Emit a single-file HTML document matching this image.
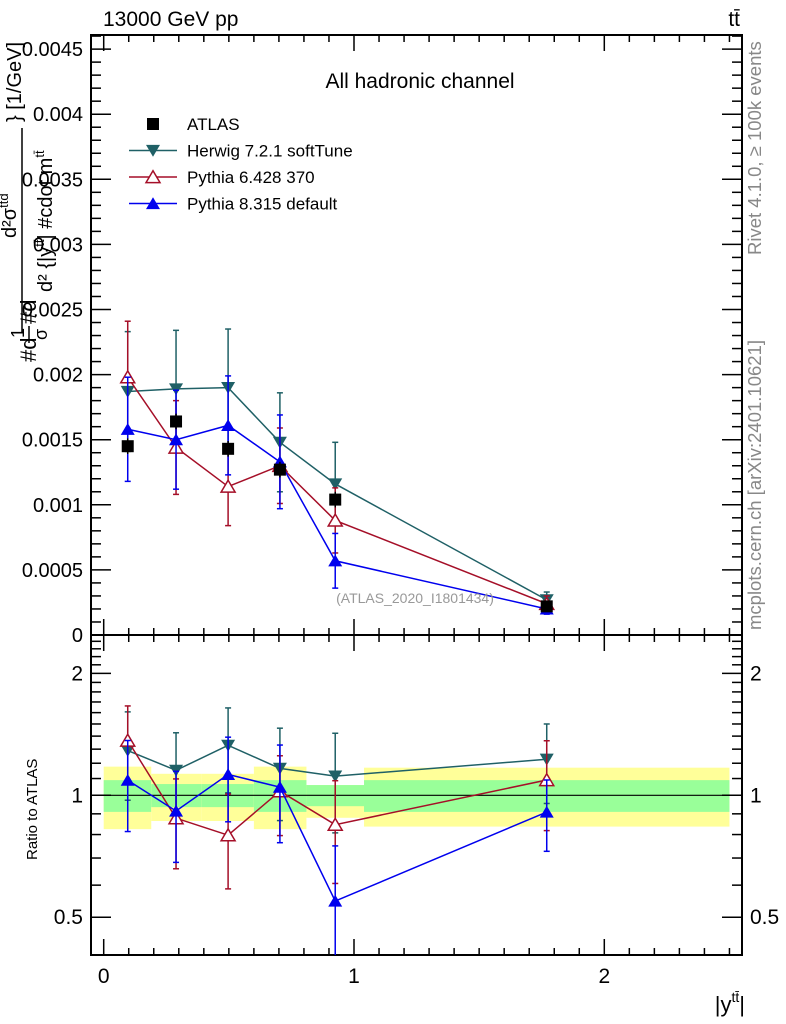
<!DOCTYPE html>
<html><head><meta charset="utf-8"><style>
html,body{margin:0;padding:0;background:#fff;}
svg{display:block;font-family:"Liberation Sans",sans-serif;}
</style></head><body>
<svg id="chart" width="786" height="1024" viewBox="0 0 786 1024">
<rect x="0" y="0" width="786" height="1024" fill="#fff"/>
<g id="bands"></g>
<g id="axes"></g>
<g id="series"></g>
<text x="103" y="26" font-size="21">13000 GeV pp</text>
<text x="740" y="26" font-size="21" text-anchor="end">tt̄</text>
<text x="420" y="88" font-size="21" text-anchor="middle">All hadronic channel</text>
<text x="415" y="603" font-size="14" fill="#999" text-anchor="middle">(ATLAS_2020_I1801434)</text>
<text transform="translate(761,255) rotate(-90)" font-size="18.5" fill="#888">Rivet 4.1.0, ≥ 100k events</text>
<text transform="translate(761,630) rotate(-90)" font-size="18.5" fill="#888">mcplots.cern.ch [arXiv:2401.10621]</text>
<g font-size="22">
<text transform="translate(36,362) rotate(-90)">#d</text>
<text transform="translate(24,338) rotate(-90)" font-size="18">1</text>
<line x1="29" x2="29" y1="343" y2="326" stroke="#000" stroke-width="1.5"/>
<text transform="translate(47,340) rotate(-90)" font-size="18">σ</text>
<text transform="translate(36,324) rotate(-90)">#d</text>
<line x1="22" x2="22" y1="333" y2="128" stroke="#000" stroke-width="1.5"/>
<text transform="translate(16,238) rotate(-90)" font-size="20">d²σ<tspan font-size="13" dy="-8">ttd</tspan></text>
<text transform="translate(52,292) rotate(-90)" font-size="20">d² {|y<tspan font-size="13" dy="-8">tt̄</tspan><tspan dy="8">| #cdot m</tspan><tspan font-size="13" dy="-8">tt̄</tspan></text>
<text transform="translate(21,122) rotate(-90)" font-size="20">} [1/GeV]</text>
</g>
<text transform="translate(37,860) rotate(-90)" font-size="15">Ratio to ATLAS</text>
<text x="745" y="1012" font-size="22" text-anchor="end">|y<tspan font-size="14" dy="-10">tt̄</tspan><tspan dy="10">|</tspan></text>
<g id="legend"></g>
</svg>
<script>
const xCenters=[0.096,0.289,0.497,0.704,0.925,1.77];
const binEdges=[0,0.19,0.39,0.6,0.81,1.04,2.5];
const atlasVals=[0.00145,0.00164,0.00143,0.00127,0.00104,0.00022];
const atlasErr=[0.00006,0.00006,0.00006,0.00006,0.00006,0.00002];
const greenUp=[1.09,1.066,1.066,1.09,1.06,1.09];
const greenDn=[0.91,0.935,0.935,0.91,0.94,0.91];
const yellowUp=[1.177,1.13,1.13,1.177,1.06,1.17];
const yellowDn=[0.825,0.864,0.864,0.825,0.88,0.837];
const herwigVals=[0.00187,0.00189,0.0019,0.00148,0.00116,0.00027];
const herwigErr=[0.00046,0.00045,0.00045,0.00038,0.00032,0.00006];
const py6Vals=[0.00198,0.00144,0.00114,0.0013,0.00088,0.00024];
const py6Err=[0.00043,0.00036,0.0003,0.00029,0.00025,0.00006];
const py8Vals=[0.00158,0.0015,0.00161,0.00133,0.00057,0.0002];
const py8Err=[0.0004,0.00038,0.00038,0.00036,0.00021,0.00004];
const mainTicks=[0,0.0005,0.001,0.0015,0.002,0.0025,0.003,0.0035,0.004,0.0045];
const mainTickLabels=["0","0.0005","0.001","0.0015","0.002","0.0025","0.003","0.0035","0.004","0.0045"];
const ratioTicks=[0.5,1,2];
const ratioTickLabels=["0.5","1","2"];
const xTicks=[0,1,2];
const xTickLabels=["0","1","2"];

const L=91,R=742,T=35,MB=635,RB=955;
const NS="http://www.w3.org/2000/svg";
const X=v=>103.7+v*250.3;
const Ym=v=>635-v*130200;
const Yr=r=>795.3-405*Math.log10(r);
function mk(tag,attrs,parent){const e=document.createElementNS(NS,tag);for(const k in attrs)e.setAttribute(k,attrs[k]);parent.appendChild(e);return e;}
const axes=document.getElementById('axes'),bands=document.getElementById('bands'),ser=document.getElementById('series'),leg=document.getElementById('legend');

for(let i=0;i<binEdges.length-1;i++){
 const y=mk('rect',{x:X(binEdges[i]),width:X(binEdges[i+1])-X(binEdges[i]),y:Yr(yellowUp[i]),height:Yr(yellowDn[i])-Yr(yellowUp[i]),fill:'#ffff99'},bands);
 
 
 const g=mk('rect',{x:X(binEdges[i]),width:X(binEdges[i+1])-X(binEdges[i]),y:Yr(greenUp[i]),height:Yr(greenDn[i])-Yr(greenUp[i]),fill:'#99ff99'},bands);
 
 
}
const one=mk('line',{x1:L,x2:R,y1:Yr(1),y2:Yr(1),stroke:'#000','stroke-width':1.2},bands);



for(const [t,b,n] of [[T,MB,'main-frame'],[MB,RB,'ratio-frame']]){
 const r=mk('rect',{x:L,y:t,width:R-L,height:b-t,fill:'none',stroke:'#000','stroke-width':2},axes);
 
 
}
for(let k=0;k<=25;k++){
 const v=k/10,x=X(v),maj=(k%10===0),len=maj?16:7;
 for(const [t,b] of [[T,MB],[MB,RB]]){
  mk('line',{x1:x,x2:x,y1:b,y2:b-len,stroke:'#000','stroke-width':1.5},axes);
  mk('line',{x1:x,x2:x,y1:t,y2:t+len,stroke:'#000','stroke-width':1.5},axes);
 }
}
xTicks.forEach((v,i)=>{const t=mk('text',{x:X(v),y:983,'font-size':21,'text-anchor':'middle'},axes);t.textContent=xTickLabels[i];
 
 });
for(let k=0;k<=46;k++){
 const v=k*0.0001,y=Ym(v); if(y<T)continue; const maj=(k%5===0),len=maj?20:10;
 mk('line',{x1:L,x2:L+len,y1:y,y2:y,stroke:'#000','stroke-width':1.5},axes);
 mk('line',{x1:R,x2:R-len,y1:y,y2:y,stroke:'#000','stroke-width':1.5},axes);
}
mainTicks.forEach((v,i)=>{const t=mk('text',{x:83,y:Ym(v)+7,'font-size':20,'text-anchor':'end'},axes);t.textContent=mainTickLabels[i];
 
 });
const rminor=[0.5,0.6,0.7,0.8,0.9,1,1.1,1.2,1.3,1.4,1.5,1.6,1.7,1.8,1.9,2,2.1,2.2,2.3,2.4];
rminor.forEach(v=>{const y=Yr(v),maj=ratioTicks.includes(v),len=maj?20:10;
 mk('line',{x1:L,x2:L+len,y1:y,y2:y,stroke:'#000','stroke-width':1.5},axes);
 mk('line',{x1:R,x2:R-len,y1:y,y2:y,stroke:'#000','stroke-width':1.5},axes);});
ratioTicks.forEach((v,i)=>{
 const t=mk('text',{x:83,y:Yr(v)+7,'font-size':21,'text-anchor':'end'},axes);t.textContent=ratioTickLabels[i];
 
 
 const t2=mk('text',{x:750,y:Yr(v)+7,'font-size':21},axes);t2.textContent=ratioTickLabels[i];
 
 });

function marker(type,x,y,col,parent,s){
 s=s||7;
 if(type==='sq')return mk('rect',{x:x-s,y:y-s,width:2*s,height:2*s,fill:col},parent);
 if(type==='down')return mk('polygon',{points:`${x-s},${y-s*0.8} ${x+s},${y-s*0.8} ${x},${y+s*0.9}`,fill:col},parent);
 if(type==='up')return mk('polygon',{points:`${x-s},${y+s*0.8} ${x+s},${y+s*0.8} ${x},${y-s*0.9}`,fill:col},parent);
 if(type==='upo')return mk('polygon',{points:`${x-s},${y+s*0.8} ${x+s},${y+s*0.8} ${x},${y-s*0.9}`,fill:'#fff',stroke:col,'stroke-width':1.5},parent);
}
function clipY(y,t,b){return Math.max(t,Math.min(b,y));}
function drawSeries(name,vals,err,col,mtype){
 const g=mk('g',{},ser);
 
 
 const pts=vals.map((v,i)=>`${X(xCenters[i])},${Ym(v)}`).join(' ');
 mk('polyline',{points:pts,fill:'none',stroke:col,'stroke-width':1.5},g);
 vals.forEach((v,i)=>{const x=X(xCenters[i]);
  mk('line',{x1:x,x2:x,y1:Ym(v+err[i]),y2:Ym(v-err[i]),stroke:col,'stroke-width':1.5},g);
  for(const yy of [Ym(v+err[i]),Ym(v-err[i])])mk('line',{x1:x-3,x2:x+3,y1:yy,y2:yy,stroke:col,'stroke-width':1.5},g);
  const m=marker(mtype,x,Ym(v),col,g);
  
  });
 const rp=vals.map((v,i)=>`${X(xCenters[i])},${clipY(Yr(v/atlasVals[i]),MB,RB)}`).join(' ');
 mk('polyline',{points:rp,fill:'none',stroke:col,'stroke-width':1.5},g);
 vals.forEach((v,i)=>{const x=X(xCenters[i]),r=v/atlasVals[i],e=err[i]/atlasVals[i];
  const y1=clipY(Yr(r+e),MB,RB),y2=clipY(Yr(Math.max(r-e,0.01)),MB,RB);
  mk('line',{x1:x,x2:x,y1:y1,y2:y2,stroke:col,'stroke-width':1.5},g);
  for(const yy of [y1,y2]) if(yy>MB&&yy<RB) mk('line',{x1:x-3,x2:x+3,y1:yy,y2:yy,stroke:col,'stroke-width':1.5},g);
  const m=marker(mtype,x,Yr(r),col,g);
  
  });
}
const ga=mk('g',{},ser);


drawSeries('herwig',herwigVals,herwigErr,'#1f6066','down');
drawSeries('pythia6',py6Vals,py6Err,'#a50f28','upo');
drawSeries('pythia8',py8Vals,py8Err,'#0000ee','up');
atlasVals.forEach((v,i)=>{const x=X(xCenters[i]);
 mk('line',{x1:x,x2:x,y1:Ym(v+atlasErr[i]),y2:Ym(v-atlasErr[i]),stroke:'#000','stroke-width':1.5},ga);
 const m=marker('sq',x,Ym(v),'#000',ga,6);
 
 });
ser.appendChild(ga);

const legItems=[['ATLAS','#000','sq'],['Herwig 7.2.1 softTune','#1f6066','down'],['Pythia 6.428 370','#a50f28','upo'],['Pythia 8.315 default','#0000ee','up']];
legItems.forEach((it,i)=>{const y=124+i*26.5;
 const g=mk('g',{},leg);
 
 
 if(it[2]!=='sq')mk('line',{x1:129,x2:177,y1:y,y2:y,stroke:it[1],'stroke-width':1.5},g);
 marker(it[2],153,y,it[1],g,it[2]==='sq'?6:7);
 const t=mk('text',{x:187,y:y+6,'font-size':17},g);t.textContent=it[0];});
</script>
</body></html>
